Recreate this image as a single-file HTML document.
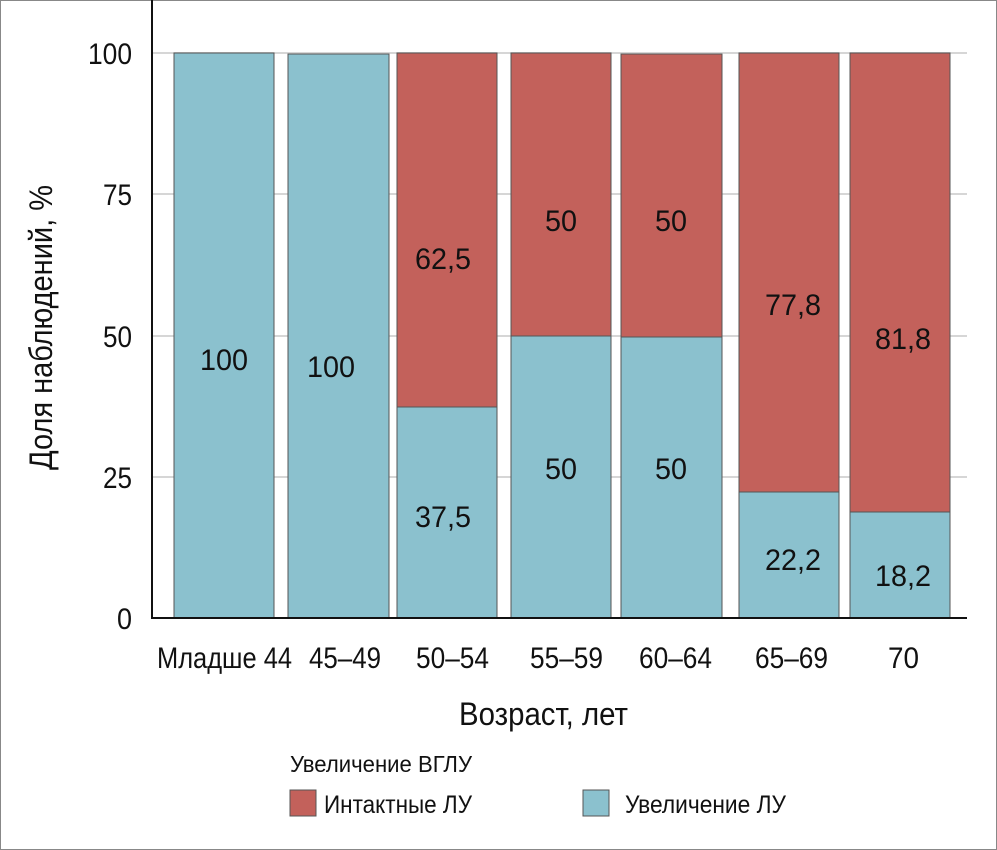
<!DOCTYPE html>
<html><head><meta charset="utf-8"><style>
html,body{margin:0;padding:0;background:#fff}
svg{display:block}
text{font-family:"Liberation Sans",sans-serif;fill:#111}
</style></head><body>
<svg width="997" height="850" viewBox="0 0 997 850" xmlns="http://www.w3.org/2000/svg">
<rect x="0.5" y="0.5" width="996" height="849" fill="#fff" stroke="#888"/>
<g stroke="#d6d6d6" stroke-width="2">
<line x1="152" y1="53" x2="967" y2="53"/>
<line x1="152" y1="194" x2="967" y2="194"/>
<line x1="152" y1="336" x2="967" y2="336"/>
<line x1="152" y1="477" x2="967" y2="477"/>
</g>
<g stroke="#555" stroke-width="1">
<rect x="174" y="53" width="100" height="565" fill="#8bc1ce"/>
<rect x="288" y="54" width="101" height="564" fill="#8bc1ce"/>
<rect x="397" y="53" width="100" height="354" fill="#c3615b"/>
<rect x="397" y="407" width="100" height="211" fill="#8bc1ce"/>
<rect x="511" y="53" width="100" height="283" fill="#c3615b"/>
<rect x="511" y="336" width="100" height="282" fill="#8bc1ce"/>
<rect x="621" y="54" width="101" height="283" fill="#c3615b"/>
<rect x="621" y="337" width="101" height="281" fill="#8bc1ce"/>
<rect x="739" y="53" width="100" height="439" fill="#c3615b"/>
<rect x="739" y="492" width="100" height="126" fill="#8bc1ce"/>
<rect x="850" y="53" width="100" height="459" fill="#c3615b"/>
<rect x="850" y="512" width="100" height="106" fill="#8bc1ce"/>
</g>
<line x1="152" y1="0" x2="152" y2="619" stroke="#111" stroke-width="2"/>
<line x1="151" y1="618" x2="967" y2="618" stroke="#111" stroke-width="2"/>
<g font-size="30" lengthAdjust="spacingAndGlyphs">
<text x="88" y="64" textLength="44" lengthAdjust="spacingAndGlyphs">100</text>
<text x="103" y="205" textLength="29" lengthAdjust="spacingAndGlyphs">75</text>
<text x="103" y="347" textLength="29" lengthAdjust="spacingAndGlyphs">50</text>
<text x="103" y="488" textLength="29" lengthAdjust="spacingAndGlyphs">25</text>
<text x="117" y="629" textLength="15" lengthAdjust="spacingAndGlyphs">0</text>

<text x="200" y="370" textLength="48" lengthAdjust="spacingAndGlyphs">100</text>
<text x="307" y="377" textLength="48" lengthAdjust="spacingAndGlyphs">100</text>
<text x="415" y="269" textLength="56" lengthAdjust="spacingAndGlyphs">62,5</text>
<text x="415" y="527" textLength="56" lengthAdjust="spacingAndGlyphs">37,5</text>
<text x="545" y="231" textLength="32" lengthAdjust="spacingAndGlyphs">50</text>
<text x="545" y="479" textLength="32" lengthAdjust="spacingAndGlyphs">50</text>
<text x="655" y="231" textLength="32" lengthAdjust="spacingAndGlyphs">50</text>
<text x="655" y="479" textLength="32" lengthAdjust="spacingAndGlyphs">50</text>
<text x="765" y="315" textLength="56" lengthAdjust="spacingAndGlyphs">77,8</text>
<text x="765" y="570" textLength="56" lengthAdjust="spacingAndGlyphs">22,2</text>
<text x="875" y="349" textLength="56" lengthAdjust="spacingAndGlyphs">81,8</text>
<text x="875" y="586" textLength="56" lengthAdjust="spacingAndGlyphs">18,2</text>

<text x="157" y="668" textLength="135" lengthAdjust="spacingAndGlyphs">Младше 44</text>
<text x="309" y="668" textLength="72" lengthAdjust="spacingAndGlyphs">45–49</text>
<text x="416" y="668" textLength="73" lengthAdjust="spacingAndGlyphs">50–54</text>
<text x="530" y="668" textLength="73" lengthAdjust="spacingAndGlyphs">55–59</text>
<text x="639" y="668" textLength="73" lengthAdjust="spacingAndGlyphs">60–64</text>
<text x="755" y="668" textLength="73" lengthAdjust="spacingAndGlyphs">65–69</text>
<text x="888" y="668" textLength="31" lengthAdjust="spacingAndGlyphs">70</text>
<text x="459" y="725" font-size="32" textLength="169" lengthAdjust="spacingAndGlyphs">Возраст, лет</text>
</g>
<text transform="translate(52,470) rotate(-90)" font-size="32" textLength="285" lengthAdjust="spacingAndGlyphs">Доля наблюдений, %</text>
<text x="290" y="772" font-size="23" textLength="182" lengthAdjust="spacingAndGlyphs">Увеличение ВГЛУ</text>
<rect x="290" y="790" width="26" height="26" fill="#c3615b" stroke="#555"/>
<text x="324" y="813" font-size="25" textLength="148" lengthAdjust="spacingAndGlyphs">Интактные ЛУ</text>
<rect x="583" y="790" width="26" height="26" fill="#8bc1ce" stroke="#555"/>
<text x="625" y="813" font-size="25" textLength="161" lengthAdjust="spacingAndGlyphs">Увеличение ЛУ</text>
</svg>
</body></html>
